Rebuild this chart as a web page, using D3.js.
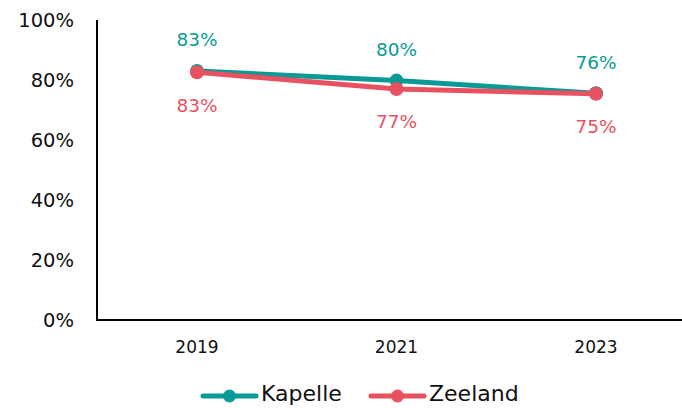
<!DOCTYPE html>
<html><head><meta charset="utf-8">
<script src="https://cdn.jsdelivr.net/npm/d3@7"></script>
<style>body{margin:0;background:#fff}svg{display:block}text{font-family:"DejaVu Sans",sans-serif}</style>
</head><body><svg id="c" width="682" height="408"></svg>
<script>
const years = ["2019","2021","2023"];
const kapelle = [83.0, 79.8, 75.6];
const zeeland = [82.6, 77.0, 75.4];
const kapelleLabels = ["83%","80%","76%"];
const zeelandLabels = ["83%","77%","75%"];
const yTicks = [0,20,40,60,80,100];

const svg = d3.select("#c");
const x = d3.scalePoint().domain(years).range([197,596]);
const y = d3.scaleLinear().domain([0,100]).range([320,20]);
const teal = "#0A9A96", red = "#E8515F";

// axes
svg.append("line").attr("x1",97).attr("x2",97).attr("y1",y(100)).attr("y2",y(0)).attr("stroke","#000").attr("stroke-width",2);
svg.append("line").attr("x1",96).attr("x2",682).attr("y1",y(0)).attr("y2",y(0)).attr("stroke","#000").attr("stroke-width",2);
svg.selectAll(".yt").data(yTicks).enter().append("text")
  .attr("x",74).attr("y",d=>y(d)).attr("dy","0.35em").attr("text-anchor","end")
  .attr("font-size",19.5).attr("fill","#111").text(d=>d+"%");
svg.selectAll(".xt").data(years).enter().append("text")
  .attr("x",d=>x(d)).attr("y",347).attr("dy","0.35em").attr("text-anchor","middle")
  .attr("font-size",17).attr("fill","#111").text(d=>d);

const line = d3.line().x((d,i)=>x(years[i])).y(d=>y(d));
function series(vals, color, labels, off){
  svg.append("path").attr("d",line(vals)).attr("fill","none").attr("stroke",color).attr("stroke-width",5).attr("stroke-linecap","round");
  svg.selectAll(null).data(vals).enter().append("circle")
    .attr("cx",(d,i)=>x(years[i])).attr("cy",d=>y(d)).attr("r",7).attr("fill",color);
  svg.selectAll(null).data(vals).enter().append("text")
    .attr("x",(d,i)=>x(years[i])).attr("y",d=>y(d)+off).attr("dy","0.35em").attr("text-anchor","middle")
    .attr("font-size",18.5).attr("fill",color).text((d,i)=>labels[i]);
}
series(kapelle, teal, kapelleLabels, -31);
series(zeeland, red, zeelandLabels, 33);

// legend
const legend = [{name:"Kapelle",c:teal,x:203},{name:"Zeeland",c:red,x:371}];
legend.forEach(l=>{
  svg.append("line").attr("x1",l.x).attr("x2",l.x+53).attr("y1",396).attr("y2",396).attr("stroke",l.c).attr("stroke-width",5).attr("stroke-linecap","round");
  svg.append("circle").attr("cx",l.x+26.5).attr("cy",396).attr("r",6.5).attr("fill",l.c);
  svg.append("text").attr("x",l.x+58).attr("y",393).attr("dy","0.35em").attr("font-size",22).attr("fill","#111").text(l.name);
});
</script></body></html>
